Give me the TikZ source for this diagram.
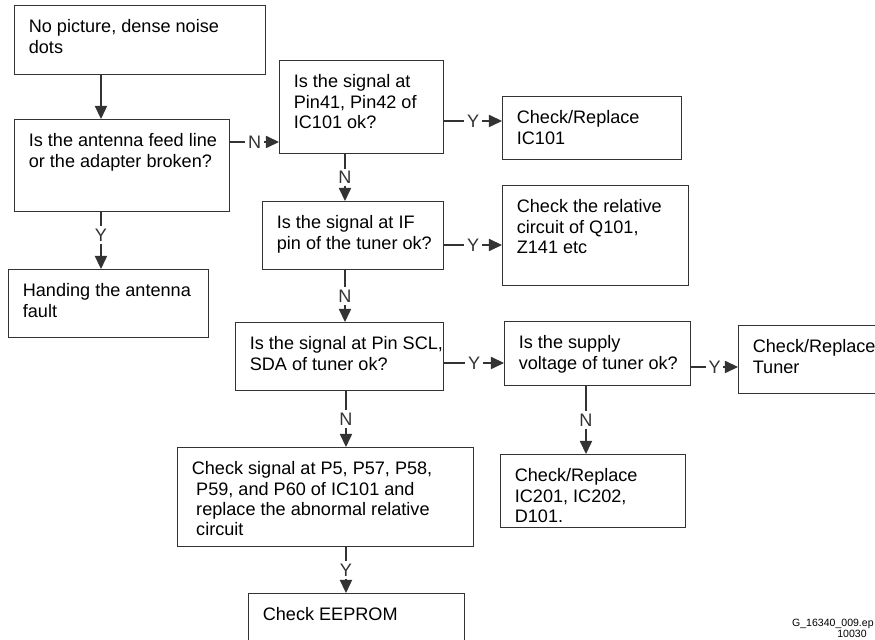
\documentclass[tikz,border=0pt]{standalone}
\usepackage{fontspec}
\setmainfont{Liberation Sans}
\usetikzlibrary{positioning,arrows.meta}

\begin{document}
\begin{tikzpicture}[
x=0.02cm, y=-0.02cm,
box/.style={draw=black!80, line width=0.7pt, anchor=north west, inner sep=0pt},
txt/.style={anchor=north west, align=left, inner xsep=0.29cm, inner ysep=0.29cm, font=\fontsize{10.3}{11.5}\selectfont},
lbl/.style={fill=white, inner sep=1.5pt, font=\fontsize{10.3}{12}\selectfont},
arrow/.style={-{Triangle[length=7.5pt, width=7pt]}, line width=0.7pt, black!80}
]
\useasboundingbox (0,0) rectangle (875,639);

% left column
\node[box, minimum width=5.02cm, minimum height=1.38cm,
  label={[txt]north west:{No picture, dense noise\\dots}}] (start) at (14,5) {};
\node[box, minimum width=4.30cm, minimum height=1.84cm,
  label={[txt]north west:{Is the antenna feed line\\or the adapter broken?}}] (antenna) at (14,119) {};
\node[box, minimum width=4.00cm, minimum height=1.36cm,
  label={[txt]north west:{Handing the antenna\\fault}}] (fault) at (8,269) {};

% middle column
\node[box, minimum width=3.28cm, minimum height=1.86cm,
  label={[txt]north west:{Is the signal at\\Pin41, Pin42 of\\IC101 ok?}}] (pin41) at (279,60) {};
\node[box, minimum width=3.62cm, minimum height=1.36cm,
  label={[txt]north west:{Is the signal at IF\\pin of the tuner ok?}}] (ifpin) at (262,201) {};
\node[box, minimum width=4.16cm, minimum height=1.36cm,
  label={[txt]north west:{Is the signal at Pin SCL,\\SDA of tuner ok?}}] (scl) at (235,322) {};
\node[box, minimum width=5.92cm, minimum height=1.98cm,
  label={[txt]north west:{Check signal at P5, P57, P58,\\\hspace*{2.5pt}P59, and P60 of IC101 and\\\hspace*{2.5pt}replace the abnormal relative\\\hspace*{2.5pt}circuit}}] (pfive) at (177,447) {};
\node[box, minimum width=4.32cm, minimum height=1.40cm,
  label={[txt]north west:{Check EEPROM}}] (eeprom) at (248,593) {};

% right columns
\node[box, minimum width=3.58cm, minimum height=1.26cm,
  label={[txt]north west:{Check/Replace\\IC101}}] (ic101) at (502,96) {};
\node[box, minimum width=3.72cm, minimum height=2.00cm,
  label={[txt]north west:{Check the relative\\circuit of Q101,\\Z141 etc}}] (q101) at (502,185) {};
\node[box, minimum width=3.72cm, minimum height=1.28cm,
  label={[txt]north west:{Is the supply\\voltage of tuner ok?}}] (supply) at (504,321) {};
\node[box, minimum width=3.70cm, minimum height=1.46cm,
  label={[txt]north west:{Check/Replace\\IC201, IC202,\\D101.}}] (ic201) at (500,454) {};
\node[box, minimum width=3.40cm, minimum height=1.36cm,
  label={[txt]north west:{Check/Replace\\Tuner}}] (tuner) at (738,325) {};

% file tag
\node[anchor=base east, inner sep=0pt, font=\fontsize{6}{7}\selectfont] (tag) at (874,626) {G\_16340\_009.ep};
\node[anchor=base east, inner sep=0pt, font=\fontsize{6}{7}\selectfont] (tagnum) at (867,637) {10030};

% connectors
\coordinate (a1) at ([xshift=1.74cm]start.south west);
\draw[arrow] (a1) -- (a1 |- antenna.north);
\coordinate (b1) at ([yshift=-0.46cm]antenna.north east);
\draw[arrow] (b1) -- (b1 -| pin41.west) node[lbl, midway] {N};
\coordinate (b2) at ([xshift=1.74cm]antenna.south west);
\draw[arrow] (b2) -- (b2 |- fault.north) node[lbl, pos=0.4] {Y};
\coordinate (c1) at ([yshift=-1.22cm]pin41.north east);
\draw[arrow] (c1) -- (c1 -| ic101.west) node[lbl, midway] {Y};
\coordinate (c2) at ([xshift=1.32cm]pin41.south west);
\draw[arrow] (c2) -- (c2 |- ifpin.north) node[lbl, midway] {N};
\coordinate (e1) at ([yshift=-0.88cm]ifpin.north east);
\draw[arrow] (e1) -- (e1 -| q101.west) node[lbl, midway] {Y};
\coordinate (e2) at ([xshift=1.66cm]ifpin.south west);
\draw[arrow] (e2) -- (e2 |- scl.north) node[lbl, midway] {N};
\coordinate (g1) at ([yshift=-0.82cm]scl.north east);
\draw[arrow] (g1) -- (g1 -| supply.west) node[lbl, midway] {Y};
\coordinate (g2) at ([xshift=2.22cm]scl.south west);
\draw[arrow] (g2) -- (g2 |- pfive.north) node[lbl, midway] {N};
\coordinate (h1) at ([yshift=-0.92cm]supply.north east);
\draw[arrow] (h1) -- (h1 -| tuner.west) node[lbl, midway] {Y};
\coordinate (h2) at ([xshift=1.64cm]supply.south west);
\draw[arrow] (h2) -- (h2 |- ic201.north) node[lbl, midway] {N};
\coordinate (k1) at ([xshift=3.38cm]pfive.south west);
\draw[arrow] (k1) -- (k1 |- eeprom.north) node[lbl, midway] {Y};
\end{tikzpicture}
\end{document}
